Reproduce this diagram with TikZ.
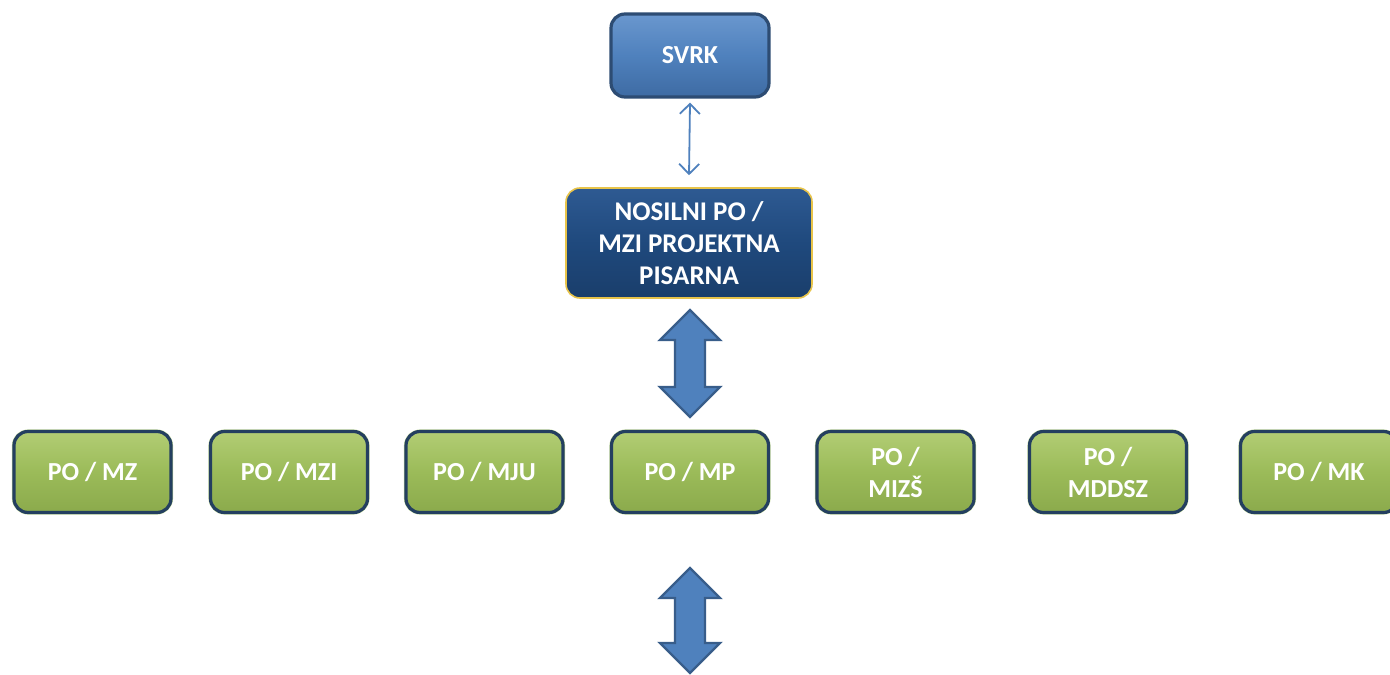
\documentclass[tikz,border=0pt]{standalone}
\usepackage{fontspec}
\setmainfont{Carlito}
\usetikzlibrary{arrows.meta}
\definecolor{gfill}{HTML}{9BBB59}
\definecolor{gtop}{HTML}{B2CD74}
\definecolor{gbot}{HTML}{8BAA4C}
\definecolor{edgeblue}{HTML}{243F60}
\definecolor{glow}{HTML}{C6DC9E}
\definecolor{bfill}{HTML}{4F81BD}
\definecolor{btop}{HTML}{6A97CE}
\definecolor{bbot}{HTML}{3E6BA3}
\definecolor{dfill}{HTML}{1F497D}
\definecolor{dtop}{HTML}{2E5A92}
\definecolor{dbot}{HTML}{1A3E6B}
\definecolor{gold}{HTML}{E8C44A}
\definecolor{arrfill}{HTML}{4F81BD}
\definecolor{arredge}{HTML}{385D8A}
\tikzset{
  boxbase/.style={rounded corners=7pt, text=white, align=center,
    font=\fontsize{13}{16}\selectfont\bfseries, inner sep=0pt},
  greenbox/.style={boxbase, minimum width=78.5pt, minimum height=40.5pt,
    top color=gtop, bottom color=gbot, middle color=gfill,
    draw=edgeblue, line width=1.6pt},
  svrkbox/.style={boxbase, minimum width=79pt, minimum height=41.5pt,
    top color=btop, bottom color=bbot, middle color=bfill,
    draw=edgeblue!80!bfill, line width=1.6pt},
  nosbox/.style={boxbase, minimum width=123pt, minimum height=55pt,
    font=\fontsize{13.5}{16}\selectfont\bfseries,
    top color=dtop, bottom color=dbot, middle color=dfill,
    draw=gold, line width=0.8pt},
  halo/.style={draw=glow, line width=0.6pt, rounded corners=8pt},
  thinarrow/.style={draw=arrfill, line width=0.9pt, {Straight Barb[length=5pt,width=10pt]}-{Straight Barb[length=5pt,width=10pt]}},
  bigarrow/.style={fill=arrfill, draw=arredge, line width=1.2pt, line join=miter}
}
\begin{document}
\begin{tikzpicture}[x=0.5pt,y=-0.5pt]
\path[use as bounding box, clip] (0,0) rectangle (1390,674);
\fill[white] (0,0) rectangle (1390,674);

% top boxes
\node[svrkbox] (svrk) at (690,55.5) {SVRK};
\node[nosbox] (nos) at (689,243) {NOSILNI PO /\\MZI PROJEKTNA\\PISARNA};

% green boxes
\foreach \n/\x/\t in {mz/92.5/{PO / MZ}, mzi/289/{PO / MZI}, mju/484.5/{PO / MJU},
  mp/690/{PO / MP}, mizs/895.5/{PO /\\MIZŠ}, mddsz/1108/{PO /\\MDDSZ}, mk/1319/{PO / MK}}{
  \draw[halo] (\x-80,430) rectangle (\x+80,514);
  \node[greenbox] (\n) at (\x,472) {\t};
}

% thin double arrow
\draw[thinarrow] ([yshift=-2pt]svrk.south) -- ([yshift=6pt]nos.north);

% big double arrows
\path (690,310) coordinate (a1t) (690,417) coordinate (a1b)
      (690,568) coordinate (a2t) (690,673) coordinate (a2b);
\draw[bigarrow] (a1t) -- ++(30,30) -- ++(-15,0) -- ++(0,47) -- ++(15,0)
  -- (a1b) -- ++(-30,-30) -- ++(15,0) -- ++(0,-47) -- ++(-15,0) -- cycle;
\draw[bigarrow] (a2t) -- ++(30,30) -- ++(-15,0) -- ++(0,45) -- ++(15,0)
  -- (a2b) -- ++(-30,-30) -- ++(15,0) -- ++(0,-45) -- ++(-15,0) -- cycle;
\end{tikzpicture}
\end{document}
